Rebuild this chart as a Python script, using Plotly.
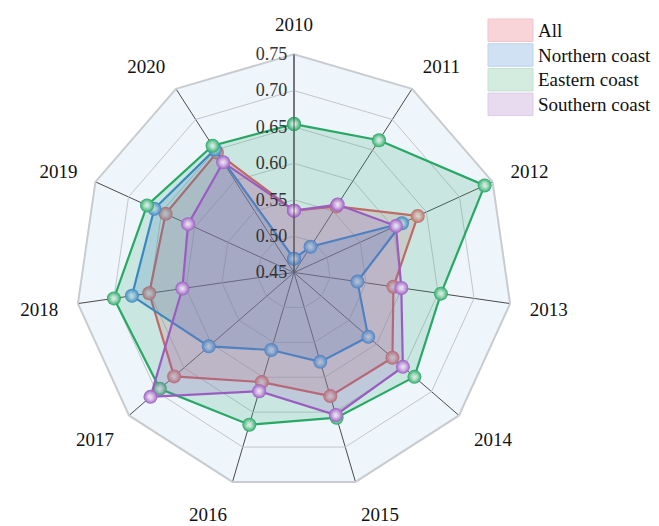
import plotly.graph_objects as go

years = ["2010", "2011", "2012", "2013", "2014", "2015", "2016", "2017", "2018", "2019", "2020"]
all_vals = [0.535, 0.558, 0.637, 0.588, 0.629, 0.627, 0.607, 0.668, 0.651, 0.644, 0.646]
northern = [0.469, 0.492, 0.613, 0.538, 0.585, 0.578, 0.561, 0.605, 0.675, 0.661, 0.651]
eastern = [0.654, 0.666, 0.738, 0.654, 0.669, 0.658, 0.668, 0.694, 0.700, 0.672, 0.657]
southern = [0.535, 0.561, 0.604, 0.599, 0.648, 0.654, 0.620, 0.711, 0.605, 0.610, 0.630]
radial_ticks = [0.45, 0.50, 0.55, 0.60, 0.65, 0.70, 0.75]
legend_labels = ["All", "Northern coast", "Eastern coast", "Southern coast"]

line_colors = ["#e05a5f", "#3b80d4", "#27a865", "#9b5cc2"]
fill_colors = ["rgba(226,110,120,0.22)", "rgba(70,120,200,0.22)",
               "rgba(60,170,120,0.20)", "rgba(150,100,190,0.22)"]
legend_box_colors = ["#f8d4d9", "#d0e1f3", "#d3ecdf", "#e8dbef"]
legend_box_edges = ["#efc3ca", "#bfd3ea", "#c2e0d1", "#dccbe6"]

FONT = "Liberation Serif"
fig = go.Figure()

for name, vals, lc, fc in zip(legend_labels, [all_vals, northern, eastern, southern],
                              line_colors, fill_colors):
    fig.add_trace(go.Scatterpolar(
        r=vals + vals[:1], theta=years + years[:1], mode="lines+markers",
        fill="toself", fillcolor=fc,
        line=dict(color=lc, width=2.2),
        marker=dict(size=14, color=lc, line=dict(width=0),
                    gradient=dict(type="radial", color="rgba(255,255,255,0.85)")),
        showlegend=False, name=name,
    ))

# legend drawn as boxes + labels (paper coordinates)
shapes = []
annotations = []
W, H = 659, 526
for i, (lab, bc, ec) in enumerate(zip(legend_labels, legend_box_colors, legend_box_edges)):
    top = 19 + i * 24.7
    bot = top + 22.5
    shapes.append(dict(type="rect", xref="paper", yref="paper",
                       x0=488 / W, x1=533 / W, y0=1 - bot / H, y1=1 - top / H,
                       fillcolor=bc, line=dict(color=ec, width=1)))
    annotations.append(dict(text=lab, xref="paper", yref="paper",
                            x=536 / W, y=1 - (top + 11.5) / H,
                            xanchor="left", yanchor="middle", showarrow=False,
                            font=dict(family=FONT, size=19, color="#111")))

cx, cy, R = 294, 272.5, 218.3
fig.update_layout(
    width=W, height=H,
    margin=dict(l=0, r=0, t=0, b=0),
    paper_bgcolor="white",
    font=dict(family=FONT, size=19, color="#111"),
    shapes=shapes, annotations=annotations,
    showlegend=False,
    polar=dict(
        domain=dict(x=[(cx - R) / W, (cx + R) / W],
                    y=[1 - (cy + R) / H, 1 - (cy - R) / H]),
        gridshape="linear",
        bgcolor="#eef6fb",
        angularaxis=dict(
            direction="clockwise", rotation=90, type="category",
            categoryorder="array", categoryarray=years,
            linecolor="#c8ccd0", linewidth=2,
            gridcolor="#4a4a4a", gridwidth=1,
            ticks="outside", ticklen=15, tickcolor="rgba(0,0,0,0)",
            tickfont=dict(family=FONT, size=19, color="#111"),
        ),
        radialaxis=dict(
            range=[0.45, 0.75], tickvals=radial_ticks,
            ticktext=[f"{v:.2f}" for v in radial_ticks],
            angle=90, tickangle=90, side="counterclockwise",
            showline=True, linecolor="#4a4a4a", linewidth=1,
            gridcolor="#c2c6ca", gridwidth=1,
            ticks="", tickfont=dict(family=FONT, size=18, color="#333"),
        ),
    ),
)

fig.write_html("out.html", config={"displayModeBar": False},
               post_script="document.body.style.margin='0';")
